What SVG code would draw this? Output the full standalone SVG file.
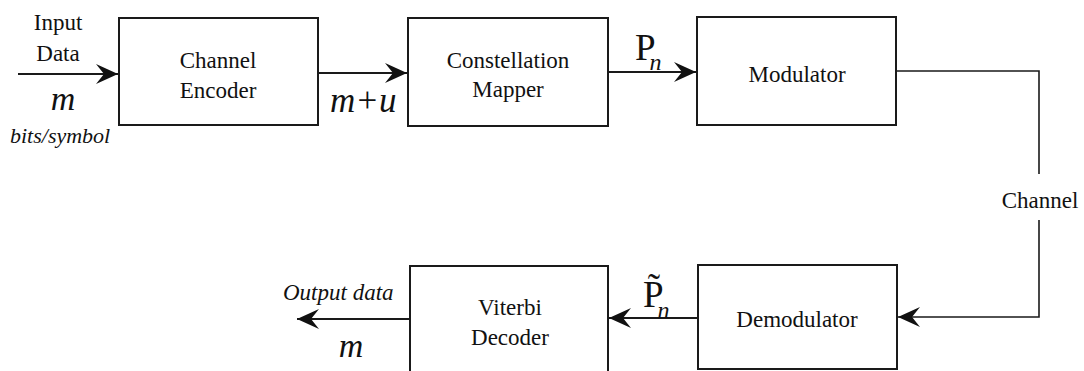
<svg xmlns="http://www.w3.org/2000/svg" width="1084" height="371" viewBox="0 0 1084 371">
<style>
.box{fill:#fff;stroke:#1a1a1a;stroke-width:2}
.t{font-family:"Liberation Serif",serif;font-size:23px;fill:#111;text-anchor:middle}
.i{font-family:"Liberation Serif",serif;font-style:italic;fill:#111}
.p{font-family:"Liberation Serif",serif;font-size:37px;fill:#111}
.ln{fill:none;stroke:#1a1a1a;stroke-width:2}
.ch{fill:none;stroke:#1a1a1a;stroke-width:1.6}
</style>
<defs>
<marker id="ah" markerUnits="userSpaceOnUse" markerWidth="26" markerHeight="22" viewBox="-24 -11 26 22" refX="0" refY="0" orient="auto">
<path d="M0,0 L-22,-10 L-14,0 L-22,10 Z" fill="#111"/>
</marker>
</defs>
<rect width="1084" height="371" fill="#fff"/>
<g id="connectors">
<line class="ln" x1="18" y1="74" x2="118" y2="74" marker-end="url(#ah)"/>
<line class="ln" x1="318" y1="73" x2="407" y2="73" marker-end="url(#ah)"/>
<line class="ln" x1="608" y1="72" x2="696" y2="72" marker-end="url(#ah)"/>
<polyline class="ch" points="896,71 1039,71 1039,174"/>
<polyline class="ch" points="1039,220 1039,317 898,317" marker-end="url(#ah)"/>
<line class="ln" x1="698" y1="318" x2="609" y2="318" marker-end="url(#ah)"/>
<line class="ln" x1="410" y1="319" x2="297" y2="319" marker-end="url(#ah)"/>
</g>
<g id="input-label">
<text class="t" x="58" y="30">Input</text>
<text class="t" x="58" y="61">Data</text>
<text class="i" x="63" y="110" font-size="34" text-anchor="middle">m</text>
<text class="i" x="10" y="143" font-size="22">bits/symbol</text>
</g>
<g id="channel-encoder">
<rect class="box" x="119" y="18" width="199" height="107"/>
<text class="t" x="218" y="68">Channel</text>
<text class="t" x="218" y="98">Encoder</text>
</g>
<g id="mu-label"><text class="i" x="330" y="112" font-size="35">m+u</text></g>
<g id="constellation-mapper">
<rect class="box" x="408" y="18" width="200" height="108"/>
<text class="t" x="508" y="68">Constellation</text>
<text class="t" x="508" y="97">Mapper</text>
</g>
<g id="pn-label">
<text class="p" x="635" y="60">P<tspan font-style="italic" font-size="24" dx="-6" dy="10">n</tspan></text>
</g>
<g id="modulator">
<rect class="box" x="697" y="17" width="199" height="108"/>
<text class="t" x="797" y="82">Modulator</text>
</g>
<g id="channel-label"><text class="t" x="1040" y="208">Channel</text></g>
<g id="demodulator">
<rect class="box" x="698" y="265" width="199" height="104"/>
<text class="t" x="797" y="327">Demodulator</text>
</g>
<g id="ptilde-label">
<text class="p" x="643" y="307">P̃<tspan font-style="italic" font-size="24" dx="-6" dy="11">n</tspan></text>
</g>
<g id="viterbi-decoder">
<rect class="box" x="410" y="266" width="198" height="112"/>
<text class="t" x="510" y="315">Viterbi</text>
<text class="t" x="510" y="345">Decoder</text>
</g>
<g id="output-label">
<text class="i" x="283" y="300" font-size="23">Output data</text>
<text class="i" x="351" y="357" font-size="34" text-anchor="middle">m</text>
</g>
</svg>
